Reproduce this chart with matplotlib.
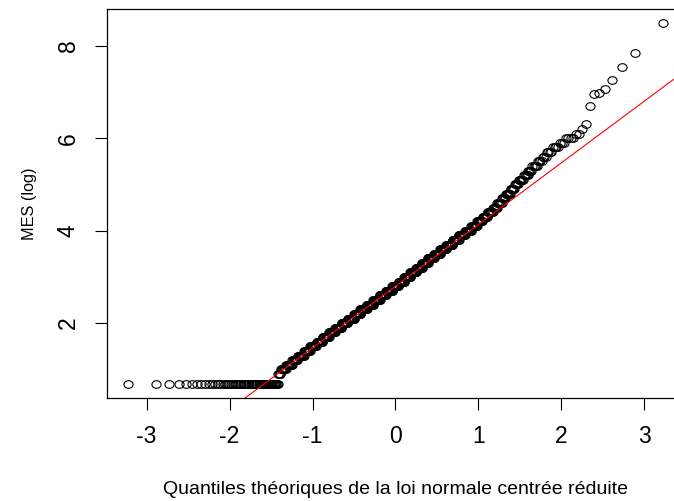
from statistics import NormalDist

import matplotlib

matplotlib.use("Agg")
import matplotlib.pyplot as plt
import numpy as np
from matplotlib.path import Path

# MES (log) : tableau de fréquences
floor_value = 0.693  # limite de quantification, log(2)
floor_count = 61

mes_values = [
    0.9, 1.0, 1.1, 1.2, 1.3, 1.4, 1.5, 1.6, 1.7, 1.8,
    1.9, 2.0, 2.1, 2.2, 2.3, 2.4, 2.5, 2.6, 2.7, 2.8,
    2.9, 3.0, 3.1, 3.2, 3.3, 3.4, 3.5, 3.6, 3.7, 3.8,
    3.9, 4.0, 4.1, 4.2, 4.3, 4.4, 4.5, 4.6, 4.7, 4.8,
    4.9, 5.0, 5.1, 5.2, 5.3, 5.4, 5.5, 5.6, 5.7, 5.8,
    5.9, 6.0, 6.1, 6.2, 6.3,
]
mes_counts = [
    4, 8, 10, 10, 12, 13, 15, 15, 17, 17,
    19, 19, 21, 21, 22, 23, 24, 23, 24, 23,
    22, 22, 22, 21, 21, 21, 20, 19, 19, 18,
    17, 16, 14, 12, 11, 10, 8, 8, 6, 7,
    6, 5, 6, 5, 4, 5, 4, 3, 4, 4,
    3, 4, 2, 1, 1,
]

# valeurs extrêmes hautes
upper_tail = [6.69, 6.95, 6.97, 7.07, 7.26, 7.54, 7.85, 8.49]

x_ticks = [-3, -2, -1, 0, 1, 2, 3]
y_ticks = [2, 4, 6, 8]

sample = np.sort(
    np.concatenate(
        [
            np.repeat(floor_value, floor_count),
            np.repeat(mes_values, mes_counts),
            upper_tail,
        ]
    )
)
n = len(sample)

# quantiles théoriques (ppoints, comme qqnorm)
norm = NormalDist()
probs = (np.arange(1, n + 1) - 0.5) / n
theo = np.array([norm.inv_cdf(p) for p in probs])

# droite passant par les quartiles (comme qqline)
q1, q3 = np.quantile(sample, [0.25, 0.75])
z1, z3 = norm.inv_cdf(0.25), norm.inv_cdf(0.75)
slope = (q3 - q1) / (z3 - z1)
intercept = q1 - slope * z1

# cercle légèrement étiré en largeur (image d'origine étirée)
circ = Path.unit_circle()
ellipse = Path(circ.vertices * [1.2, 1.0], circ.codes)

plt.rcParams["font.family"] = ["Liberation Sans", "DejaVu Sans"]

fig = plt.figure(figsize=(6.74, 5.01), dpi=100)
ax = fig.add_axes([107 / 674, (501 - 398) / 501, (684 - 107) / 674, (398 - 8.7) / 501])

ax.plot(theo, sample, linestyle="none", marker=ellipse, mfc="none", mec="black", ms=6.6, mew=0.8)
ax.axline((0, intercept), slope=slope, color="red", lw=0.8)

# étendue à la R : +4 %
xr = theo.max() - theo.min()
yr = sample.max() - sample.min()
ax.set_xlim(theo.min() - 0.04 * xr, theo.max() + 0.04 * xr)
ax.set_ylim(sample.min() - 0.04 * yr, sample.max() + 0.04 * yr)

ax.set_xticks(x_ticks)
ax.set_yticks(y_ticks)
ax.set_xticklabels([str(v) for v in x_ticks])
ax.set_yticklabels([str(v) for v in y_ticks], rotation=90, va="center")
ax.tick_params(length=8.6, width=0.8, labelsize=16.5, pad=11)

for sp in ax.spines.values():
    sp.set_linewidth(0.9)

ax.set_xlabel("Quantiles théoriques de la loi normale centrée réduite", fontsize=14)
ax.set_ylabel("MES (log)", fontsize=11.7)
ax.xaxis.set_label_coords(0.5, -0.234)
ax.xaxis.label.set_va("center")
ax.yaxis.set_label_coords(-0.135, 0.5)
ax.yaxis.label.set_va("center")

fig.savefig("out.png", dpi=100)
